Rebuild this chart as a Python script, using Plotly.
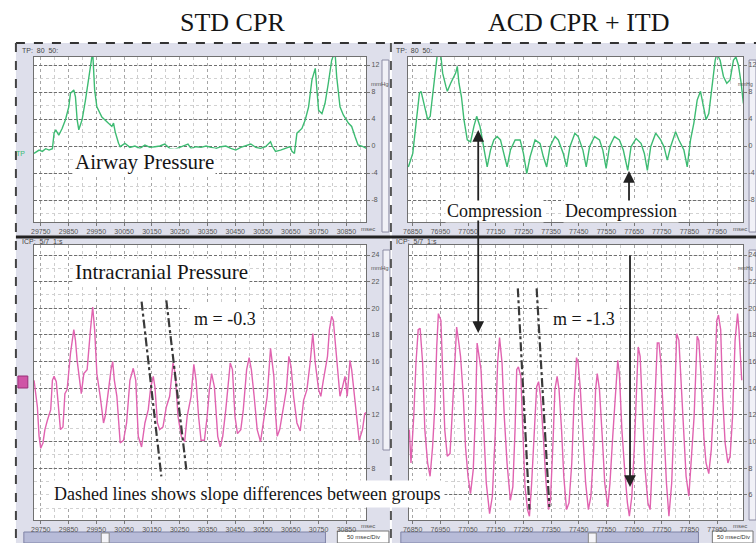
import plotly.graph_objects as go

# ---------------- data (msec, mmHg) ----------------
# Top-left: airway pressure, standard CPR
tl_t = [29726, 29744, 29756, 29768, 29780, 29792, 29798, 29804, 29815, 29827, 29839, 29851, 29857, 29869, 29875,
        29881, 29887, 29899, 29911, 29923, 29932, 29937, 29944, 29952, 29970, 29994, 30006, 30012, 30018, 30030,
        30036, 30053, 30071, 30089, 30107, 30125, 30143, 30161, 30179, 30196, 30214, 30232, 30250, 30268, 30280,
        30291, 30309, 30327, 30345, 30363, 30381, 30399, 30416, 30434, 30452, 30470, 30488, 30506, 30524, 30541,
        30559, 30577, 30583, 30595, 30613, 30631, 30648, 30654, 30663, 30672, 30690, 30702, 30714, 30726, 30738,
        30744, 30750, 30762, 30773, 30785, 30797, 30809, 30815, 30827, 30839, 30857, 30869, 30881, 30892, 30910,
        30922]
tl_v = [-1.1, -0.6, -0.8, -0.4, -0.6, -0.4, 1.9, 2.4, 1.6, 2.6, 3.9, 5.8, 7.8, 8.3, 7.3,
        3.9, 2.4, 3.9, 6.8, 9.8, 12.7, 14.0, 8.3, 5.8, 4.3, 3.4, 2.9, 3.4, 2.1, 0.4,
        -0.1, 0.4, -0.2, 0.0, -0.35, 0.15, -0.2, -0.1, 0.0, 0.3, -0.35, -0.5, -0.2, 0.0, 0.3,
        -0.35, -0.1, -0.2, 0.0, -0.2, -0.35, -0.1, 0.0, -0.35, -0.6, -0.2, 0.0, 0.3, -0.2, -0.35,
        -0.1, 0.64, 0.0, -0.8, -0.6, -0.35, -0.1, -0.8, -1.1, 1.9, 2.6, 3.9, 5.8, 9.8, 11.5,
        8.3, 5.3, 4.8, 6.3, 9.3, 12.7, 14.0, 10.3, 5.8, 4.6, 3.4, 2.9, 1.4, 0.15, -0.1,
        -0.35]

# Top-right: airway pressure, ACD CPR + ITD
tr_t = [76834, 76850, 76862, 76874, 76880, 76892, 76904, 76913, 76928, 76940,
        76952, 76958, 76970, 76975, 76987, 76999, 77005, 77011, 77017, 77026,
        77035, 77047, 77059, 77071, 77081, 77093, 77107, 77119, 77131, 77143,
        77155, 77167, 77179, 77191, 77203, 77220, 77238, 77250, 77262, 77274,
        77292, 77310, 77322, 77334, 77346, 77364, 77376, 77394, 77406, 77418,
        77436, 77448, 77465, 77477, 77489, 77507, 77525, 77537, 77549, 77561,
        77579, 77597, 77611, 77627, 77639, 77657, 77675, 77687, 77698, 77710,
        77728, 77746, 77758, 77770, 77782, 77800, 77812, 77830, 77842, 77854,
        77866, 77878, 77890, 77901, 77910, 77920, 77931, 77943, 77949, 77961,
        77973, 77985, 77997, 78009, 78018, 78027, 78037, 78045]
tr_v = [-3.1, -1.1, 3.4, 7.8, 8.1, 5.8, 3.9, 4.4, 9.3, 14.0,
        13.2, 10.8, 8.8, 8.1, 9.3, 10.3, 10.8, 11.8, 9.3, 7.3,
        3.9, 0.9, 0.6, 2.9, 4.4, 2.9, -0.1, -3.1, -0.6, 0.9,
        1.4, 0.9, -1.1, -3.1, -0.6, 0.9, 0.9, -1.1, -4.1, -1.6,
        0.9, 0.4, -1.6, -3.1, -0.1, 1.4, 0.9, -1.1, -3.1, -0.1,
        1.9, 1.4, -0.6, -3.1, -0.1, 1.4, 0.9, -0.6, -3.3, -0.1,
        1.4, 0.9, -0.6, -3.6, -0.1, 1.1, 0.4, -1.1, -3.6, -0.1,
        1.9, 0.9, -0.1, -2.1, -0.1, 2.1, 0.9, -0.6, -3.1, 0.9,
        3.4, 6.8, 8.1, 5.8, 3.9, 4.8, 8.8, 12.7, 13.7, 12.7,
        10.3, 9.3, 9.8, 12.7, 13.2, 12.0, 9.3, 6.3]

# Bottom-left: intracranial pressure, standard CPR
bl_t = [29726, 29738, 29744, 29750, 29758, 29765, 29774, 29786, 29792, 29798, 29806, 29815, 29821, 29830, 29837,
        29845, 29857, 29869, 29875, 29881, 29887, 29896, 29905, 29917, 29929, 29937, 29944, 29952, 29964, 29976,
        29982, 29994, 30003, 30009, 30015, 30024, 30036, 30048, 30059, 30071, 30083, 30092, 30101, 30113, 30125,
        30137, 30146, 30155, 30161, 30170, 30178, 30190, 30202, 30214, 30226, 30234, 30244, 30256, 30268, 30277,
        30291, 30301, 30309, 30318, 30327, 30339, 30349, 30357, 30365, 30375, 30387, 30396, 30405, 30416, 30425,
        30432, 30440, 30449, 30458, 30470, 30479, 30491, 30500, 30508, 30518, 30529, 30541, 30551, 30565, 30577,
        30589, 30595, 30601, 30610, 30622, 30634, 30643, 30651, 30660, 30672, 30684, 30696, 30708, 30720, 30729,
        30738, 30750, 30758, 30767, 30782, 30789, 30797, 30803, 30815, 30827, 30836, 30845, 30853, 30863, 30869,
        30877, 30886, 30896, 30908, 30916, 30928]
bl_v = [14.6, 12.6, 10.4, 9.5, 9.9, 10.9, 11.6, 12.4, 14.6, 14.9, 14.5, 11.9, 10.9, 11.1, 13.6,
        13.9, 16.6, 18.4, 17.6, 16.1, 14.9, 13.6, 15.1, 15.4, 18.4, 20.1, 18.4, 15.1, 13.4, 11.4,
        11.9, 14.1, 15.4, 16.0, 14.6, 13.4, 9.9, 10.1, 11.4, 14.6, 15.5, 14.6, 10.4, 9.6, 11.4,
        12.4, 14.1, 14.9, 14.1, 11.4, 10.9, 11.1, 12.6, 13.4, 15.9, 15.1, 11.9, 10.4, 10.0, 11.9,
        13.4, 15.8, 14.6, 11.9, 10.1, 10.1, 11.9, 13.9, 15.1, 14.1, 10.4, 9.6, 10.4, 12.4, 14.1,
        15.9, 15.4, 11.9, 10.6, 10.9, 12.4, 15.4, 16.3, 15.4, 13.4, 10.9, 10.0, 11.4, 13.4, 17.0,
        14.9, 12.1, 10.4, 10.9, 12.4, 13.9, 16.4, 15.6, 13.4, 11.4, 10.8, 13.1, 13.9, 16.0, 18.1,
        15.9, 13.9, 13.4, 14.6, 16.4, 18.4, 19.4, 19.1, 16.1, 13.4, 14.1, 14.9, 13.4, 16.1, 15.4,
        13.9, 11.9, 10.1, 10.9, 12.1, 12.3]

# Bottom-right: intracranial pressure, ACD CPR + ITD
br_t = [76838, 76844, 76854, 76862, 76870, 76877, 76886, 76894, 76904, 76913, 76922, 76930, 76937, 76943, 76952,
        76958, 76966, 76975, 76985, 76993, 77002, 77009, 77017, 77023, 77033, 77041, 77050, 77059, 77069, 77077,
        77083, 77089, 77097, 77107, 77116, 77128, 77138, 77149, 77157, 77164, 77173, 77181, 77191, 77203, 77212,
        77220, 77226, 77232, 77241, 77248, 77256, 77265, 77272, 77280, 77289, 77298, 77305, 77312, 77322, 77332,
        77341, 77348, 77358, 77364, 77372, 77379, 77388, 77396, 77406, 77415, 77425, 77433, 77442, 77448, 77456,
        77465, 77475, 77485, 77494, 77504, 77511, 77517, 77525, 77535, 77544, 77555, 77563, 77573, 77583, 77591,
        77597, 77606, 77616, 77626, 77633, 77642, 77651, 77659, 77665, 77672, 77681, 77690, 77700, 77708, 77716,
        77726, 77734, 77740, 77747, 77757, 77767, 77776, 77786, 77795, 77804, 77812, 77820, 77829, 77838, 77848,
        77857, 77867, 77878, 77884, 77892, 77902, 77910, 77920, 77929, 77939, 77949, 77955, 77963, 77970, 77979,
        77989, 77997, 78006, 78015, 78024, 78029, 78039]
br_v = [10.9, 8.4, 11.9, 15.9, 18.4, 18.5, 15.9, 10.9, 8.4, 7.4, 9.6, 12.6, 17.1, 19.6, 19.1,
        15.4, 10.9, 8.9, 9.1, 12.1, 15.9, 18.6, 17.4, 16.4, 13.4, 9.6, 7.4, 6.1, 7.9, 12.1,
        17.4, 16.4, 15.4, 10.9, 6.9, 4.6, 5.9, 10.9, 15.9, 17.8, 15.9, 11.9, 8.4, 5.6, 6.6,
        10.9, 15.4, 15.6, 14.9, 10.9, 6.6, 4.9, 4.4, 6.9, 10.9, 14.1, 14.5, 13.4, 10.4, 6.9,
        4.9, 5.6, 10.4, 13.9, 14.9, 13.9, 10.9, 7.4, 4.9, 5.4, 8.4, 12.9, 16.3, 15.9, 13.9,
        10.4, 6.9, 4.9, 5.9, 9.4, 13.9, 15.1, 13.9, 10.4, 6.9, 5.1, 6.9, 10.4, 13.9, 16.1,
        15.1, 10.9, 7.9, 5.4, 4.4, 5.9, 9.6, 14.6, 17.1, 16.4, 11.9, 7.9, 5.4, 4.9, 8.4,
        12.9, 17.4, 17.4, 15.9, 11.4, 6.9, 4.4, 6.9, 11.9, 18.1, 17.6, 14.4, 10.4, 7.4, 5.9,
        8.4, 11.9, 17.9, 17.6, 14.9, 10.4, 8.4, 7.6, 9.4, 13.4, 19.1, 19.5, 18.4, 13.4, 9.9,
        8.4, 8.9, 11.9, 17.6, 19.6, 18.4, 14.6]

# dashed slope guide lines (start/end in msec, mmHg)
bl_slope_t = [[30113, 30184], [30202, 30274]]
bl_slope_v = [[20.5, 7.4], [20.6, 7.9]]
br_slope_t = [[77230, 77272], [77298, 77344]]
br_slope_v = [[21.5, 4.9], [21.5, 5.1]]

# tick labels
tl_ticks = [29750 + 100 * k for k in range(12)]
tr_ticks = [76850 + 100 * k for k in range(12)]
top_yticks = [12, 8, 4, 0, -4, -8]
bl_yticks = [24, 22, 20, 18, 16, 14, 12, 10, 8]
br_yticks = [24, 22, 20, 18, 16, 14, 12, 10, 8, 6]

# ---------------- layout helpers ----------------
W, H = 756, 543
def PX(x):
    return x / W
def PY(y):
    return 1 - y / H

GREEN = '#3dbb72'
PINK = '#e063b0'
SERIF = 'Liberation Serif, Times New Roman, serif'
SANS = 'Liberation Sans, Arial, sans-serif'

fig = go.Figure()
def n(a, b):
    m = min(len(a), len(b))
    return a[:m], b[:m]

for (t, v, ax, ay, col) in [(tl_t, tl_v, 'x', 'y', GREEN), (tr_t, tr_v, 'x2', 'y2', GREEN),
                            (bl_t, bl_v, 'x3', 'y3', PINK), (br_t, br_v, 'x4', 'y4', PINK)]:
    t, v = n(t, v)
    fig.add_trace(go.Scatter(x=t, y=v, xaxis=ax, yaxis=ay, mode='lines',
                             line=dict(color=col, width=1.4), showlegend=False, hoverinfo='skip'))

# plot areas in pixels: (x0, x1, y0, y1)
AREAS = {
    'tl': (28, 363, 57, 222),
    'tr': (405, 743, 57, 222),
    'bl': (28, 363, 245, 520),
    'br': (406, 743, 245, 520),
}

def xax(area, rng, ticks, anchor):
    x0, x1, _, _ = AREAS[area]
    return dict(domain=[PX(x0), PX(x1)], range=rng, anchor=anchor,
                tickmode='array', tickvals=ticks, ticktext=[str(t) for t in ticks],
                showgrid=True, gridcolor='#a5a5a5', griddash='dot', gridwidth=1,
                minor=dict(tickmode='linear', tick0=ticks[0], dtick=50, showgrid=True,
                           gridcolor='#cdcdcd', griddash='dot', ticks=''),
                showline=True, linecolor='#707070', linewidth=1, mirror=True,
                ticks='outside', ticklen=3, tickcolor='#777',
                tickfont=dict(size=7, color='#555', family=SANS),
                zeroline=False, fixedrange=True)

def yax(area, rng, ticks, minor_dt, anchor):
    _, _, y0, y1 = AREAS[area]
    return dict(domain=[PY(y1), PY(y0)], range=rng, anchor=anchor, side='right',
                tickmode='array', tickvals=ticks, ticktext=[str(t) for t in ticks],
                showgrid=True, gridcolor='#6e6e6e', griddash='3px,2px', gridwidth=1,
                minor=dict(tickmode='linear', tick0=0, dtick=minor_dt, showgrid=True,
                           gridcolor='#d2d2d2', griddash='dot', ticks=''),
                showline=True, linecolor='#707070', linewidth=1, mirror=True,
                ticks='outside', ticklen=3, tickcolor='#777',
                tickfont=dict(size=7, color='#555', family=SANS),
                zeroline=False, fixedrange=True)

fig.update_layout(
    width=W, height=H, margin=dict(l=0, r=0, t=0, b=0),
    paper_bgcolor='white', plot_bgcolor='white',
    xaxis=xax('tl', [29725, 30921], tl_ticks, 'y'),
    yaxis=yax('tl', [-11.26, 13.19], top_yticks, 2, 'x'),
    xaxis2=xax('tr', [76832, 78044], tr_ticks, 'y2'),
    yaxis2=yax('tr', [-11.26, 13.19], top_yticks, 2, 'x2'),
    xaxis3=xax('bl', [29725, 30921], tl_ticks, 'y3'),
    yaxis3=yax('bl', [4.12, 24.75], bl_yticks, 1, 'x3'),
    xaxis4=xax('br', [76836, 78044], tr_ticks, 'y4'),
    yaxis4=yax('br', [4.12, 24.75], br_yticks, 1, 'x4'),
)

shapes = []
def prect(x0, y0, x1, y1, fill, line=None, lw=0, layer='below'):
    shapes.append(dict(type='rect', xref='paper', yref='paper', x0=PX(x0), x1=PX(x1), y0=PY(y1), y1=PY(y0),
                       fillcolor=fill, line=dict(color=line or fill, width=lw), layer=layer))
def pline(x0, y0, x1, y1, color, width=1, dash='solid', layer='below'):
    shapes.append(dict(type='line', xref='paper', yref='paper', x0=PX(x0), x1=PX(x1), y0=PY(y0), y1=PY(y1),
                       line=dict(color=color, width=width, dash=dash), layer=layer))

LAV = '#dedfeb'
# window frames
prect(10, 43, 387, 236, LAV)
prect(389, 43, 756, 236, LAV)
prect(10, 238, 387, 543, LAV)
prect(389, 238, 756, 543, LAV)
# white plot areas
for (x0, x1, y0, y1) in AREAS.values():
    prect(x0, y0, x1, y1, 'white')
# vertical scroll strips
prect(379, 60, 386, 232, '#f1f1f7', '#8c8ca4', 1)
prect(749, 60, 756, 232, '#f1f1f7', '#8c8ca4', 1)
prect(380, 250, 387, 450, '#f1f1f7', '#8c8ca4', 1)
prect(749, 250, 756, 520, '#f1f1f7', '#8c8ca4', 1)
# bottom scroll bars
prect(18, 532, 322, 543, '#b7bbd8', '#7f83a6', 1)
prect(96, 533, 104, 543, '#f4f4f8', '#888', 1)
prect(334, 531, 386, 543, 'white', '#777', 1)
prect(398, 532, 698, 543, '#b7bbd8', '#7f83a6', 1)
prect(587, 533, 595, 543, '#f4f4f8', '#888', 1)
prect(712, 531, 753, 543, 'white', '#777', 1)
# borders / separators
pline(10, 43, 756, 43, '#333', 2, 'dash')
pline(10, 43, 10, 543, '#444', 2, 'dash')
pline(388, 43, 388, 543, '#555', 2, 'dash')
pline(10, 237, 756, 237, '#222', 3)
# pink channel marker
prect(12, 376, 22, 388, '#cf55a6', '#9a2f78', 1)

# dashed slope lines in data coordinates
for i in range(2):
    shapes.append(dict(type='line', xref='x3', yref='y3', x0=bl_slope_t[i][0], x1=bl_slope_t[i][1],
                       y0=bl_slope_v[i][0], y1=bl_slope_v[i][1],
                       line=dict(color='#3a3a3a', width=2.2, dash='dashdot'), layer='above'))
    shapes.append(dict(type='line', xref='x4', yref='y4', x0=br_slope_t[i][0], x1=br_slope_t[i][1],
                       y0=br_slope_v[i][0], y1=br_slope_v[i][1],
                       line=dict(color='#3a3a3a', width=2.2, dash='dashdot'), layer='above'))

fig.update_layout(shapes=shapes)

ann = []
def text(x, y, s, size, family=SERIF, color='#151515', bg=None, xanchor='center', pad=1):
    d = dict(xref='paper', yref='paper', x=PX(x), y=PY(y), text=s, showarrow=False,
             xanchor=xanchor, yanchor='middle', font=dict(size=size, family=family, color=color),
             borderpad=pad)
    if bg:
        d['bgcolor'] = bg
    ann.append(d)

text(228, 22, 'STD CPR', 26)
text(578, 22, 'ACD CPR + ITD', 26)
text(140, 162, 'Airway Pressure', 21, bg='white')
text(157, 272, 'Intracranial Pressure', 21, bg='white')
text(492, 211, 'Compression', 18, bg='white')
text(620, 211, 'Decompression', 18, bg='white')
text(221, 319, 'm = -0.3', 18, bg='white', pad=4)
text(583, 319, 'm = -1.3', 18, bg='white', pad=4)
text(243, 494, 'Dashed lines shows slope differences between groups', 18, bg='white', pad=3)

# tiny instrument texts
for x in (14, 391):
    text(x, 51, 'TP:  80  50:', 7, family=SANS, color='#444', xanchor='left')
    text(x, 241, 'ICP:  5/7  1:s', 7, family=SANS, color='#444', xanchor='left')
text(366, 84, 'mmHg', 6, family=SANS, color='#555', xanchor='left')
text(366, 268, 'mmHg', 6, family=SANS, color='#555', xanchor='left')
text(755, 84, 'mmHg', 5, family=SANS, color='#555', xanchor='right')
text(755, 268, 'mmHg', 5, family=SANS, color='#555', xanchor='right')
text(356, 229, 'msec', 6, family=SANS, color='#555', xanchor='left')
text(731, 229, 'msec', 6, family=SANS, color='#555', xanchor='left')
text(356, 526, 'msec', 6, family=SANS, color='#555', xanchor='left')
text(731, 526, 'msec', 6, family=SANS, color='#555', xanchor='left')
text(360, 537, '50 msec/Div', 6, family=SANS, color='#333')
text(733, 537, '50 msec/Div', 6, family=SANS, color='#333')
text(15, 153, 'TP', 7, family=SANS, color=GREEN)

def arrow(x, yhead, ytail):
    ann.append(dict(xref='paper', yref='paper', x=PX(x), y=PY(yhead), ax=0, ay=ytail - yhead,
                    axref='pixel', ayref='pixel', text='', showarrow=True,
                    arrowhead=2, arrowsize=1.3, arrowwidth=1.8, arrowcolor='#222'))

arrow(476, 130, 202)   # compression (up)
arrow(476, 333, 219)   # compression (down into ICP)
arrow(628, 171, 202)   # decompression (up)
arrow(629, 487, 254)   # long down arrow in ICP panel

fig.update_layout(annotations=ann)

fig.write_html('out.html')
